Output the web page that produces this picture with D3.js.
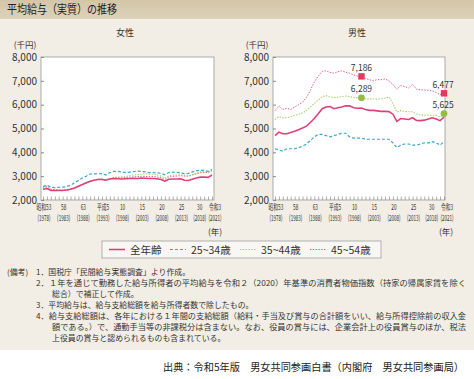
<!DOCTYPE html>
<html><head><meta charset="utf-8">
<script src="https://cdn.jsdelivr.net/npm/d3@7"></script>
<style>
body{margin:0;background:#fff}
svg{display:block}
text{font-family:"Noto Sans CJK JP","Noto Sans",sans-serif}
</style>
</head><body>
<svg id="c" width="474" height="379"></svg>
<script>
// ---------- data ----------
const years=[1978,1979,1980,1981,1982,1983,1984,1985,1986,1987,1988,1989,1990,1991,1992,1993,1994,1995,1996,1997,1998,1999,2000,2001,2002,2003,2004,2005,2006,2007,2008,2009,2010,2011,2012,2013,2014,2015,2016,2017,2018,2019,2020,2021];

const femaleAll=[2450,2480,2400,2400,2400,2400,2420,2450,2500,2580,2650,2720,2790,2830,2860,2860,2830,2880,2900,2890,2880,2890,2900,2910,2900,2920,2910,2900,2900,2890,2860,2790,2870,2880,2880,2890,2830,2820,2870,2920,2960,2960,2950,3050];
const female25=[2560,2620,2540,2520,2530,2540,2560,2620,2720,2820,2920,3000,3090,3100,3100,3110,3050,3150,3200,3200,3180,3150,3170,3190,3210,3200,3180,3150,3150,3140,3120,3060,3150,3170,3160,3150,3100,3120,3180,3230,3240,3240,3200,3280];
const female35=[2480,2520,2440,2420,2420,2410,2420,2440,2480,2560,2640,2710,2780,2830,2870,2880,2840,2900,2950,2960,2970,2980,3020,3050,3060,3080,3090,3080,3080,3060,3000,2920,3010,3040,3050,3060,3020,2990,3060,3130,3180,3180,3170,3240];
const female45=[2540,2580,2460,2430,2420,2420,2420,2450,2490,2570,2640,2710,2780,2830,2870,2880,2850,2890,2930,2940,2940,2940,2960,2970,2980,2990,2990,2980,2980,2970,2930,2860,2960,2990,3000,3020,3000,3010,3050,3100,3150,3160,3150,3230];

const maleAll=[4700,4850,4780,4780,4830,4880,4950,5020,5100,5250,5420,5620,5830,5900,5920,5830,5870,5900,5950,5950,5870,5850,5860,5800,5760,5760,5740,5720,5720,5710,5600,5300,5420,5400,5380,5450,5340,5330,5350,5400,5450,5400,5330,5480];
const male25=[4150,4100,4050,4150,4150,4150,4200,4250,4350,4500,4650,4750,4750,4700,4650,4700,4750,4800,4800,4650,4600,4600,4600,4550,4550,4550,4550,4550,4550,4550,4400,4200,4300,4350,4350,4300,4300,4350,4400,4400,4450,4400,4300,4450];
const male35=[5380,5500,5450,5450,5500,5550,5600,5650,5750,5900,6050,6200,6330,6380,6320,6300,6310,6340,6360,6340,6300,6290,6289,6250,6230,6240,6230,6250,6280,6320,6050,5700,5750,5720,5700,5700,5620,5560,5560,5550,5560,5550,5480,5625];
const male45=[5750,5950,5800,5850,5800,5900,6000,6100,6300,6600,6950,7200,7400,7420,7350,7320,7380,7420,7360,7320,7250,7200,7186,7100,7050,7000,7050,7050,7080,7000,6850,6650,6800,6760,6700,6850,6650,6620,6620,6600,6580,6520,6420,6477];

const seriesNames=["全年齢","25~34歳","35~44歳","45~54歳"];
const tickYears=[1978,1983,1988,1993,1998,2003,2008,2013,2018,2021];
const tickEra=["昭和53","58","63","平成5","10","15","20","25","30","令和3"];
const tickWestern=["(1978)","(1983)","(1988)","(1993)","(1998)","(2003)","(2008)","(2013)","(2018)","(2021)"];
const yTicks=[2000,3000,4000,5000,6000,7000,8000];

// highlighted points (male): [series index, year, label]
const maleMarks=[[3,2000,"7,186"],[2,2000,"6,289"],[3,2021,"6,477"],[2,2021,"5,625"]];

const titleText="平均給与（実質）の推移";
const panelTitles=["女性","男性"];
const notes=[
 ["(備考)",7,272,null],
 ["1．国税庁「民間給与実態調査」より作成。",36,272,null],
 ["2．１年を通じて勤務した給与所得者の平均給与を令和２（2020）年基準の消費者物価指数（持家の帰属家賃を除く",36,283,430],
 ["総合）で補正して作成。",52,294,null],
 ["3．平均給与は、給与支給総額を給与所得者数で除したもの。",36,305,null],
 ["4．給与支給総額は、各年における１年間の支給総額（給料・手当及び賞与の合計額をいい、給与所得控除前の収入金",36,316,430],
 ["額である。）で、通勤手当等の非課税分は含まない。なお、役員の賞与には、企業会計上の役員賞与のほか、税法",52,327,414],
 ["上役員の賞与と認められるものも含まれている。",52,338,null]
];
const sourceText="出典：令和5年版　男女共同参画白書（内閣府　男女共同参画局）";

// ---------- styles ----------
const styles=[
 {color:"#e0407a",width:1.6,dash:null},
 {color:"#3aa6c8",width:1.2,dash:"3,2"},
 {color:"#a9cc66",width:1.1,dash:"1.4,1.4"},
 {color:"#dc5c88",width:1.0,dash:"1.4,1.4"}
];

const svg=d3.select("#c");
svg.append("rect").attr("width",474).attr("height",379).attr("fill","#fff");
svg.append("rect").attr("width",474).attr("height",350).attr("fill","#f2eee5");
const grad=svg.append("defs").append("linearGradient").attr("id","tg").attr("x1",0).attr("y1",0).attr("x2",0).attr("y2",1);
grad.append("stop").attr("offset","0").attr("stop-color","#d3c6a8");
grad.append("stop").attr("offset","1").attr("stop-color","#ddd2ba");
svg.append("rect").attr("width",474).attr("height",19).attr("fill","url(#tg)");
svg.append("text").attr("x",7).attr("y",14).attr("font-size",12).attr("fill","#222")
  .attr("textLength",110).attr("lengthAdjust","spacingAndGlyphs").text(titleText);

const y=d3.scaleLinear().domain([2000,8000]).range([200,57]);

function panel(x0,x1,frameL,frameR,title,titleX,data,marks,yLabelRight){
  const x=d3.scaleLinear().domain([1978,2021]).range([x0,x1]);
  const g=svg.append("g");
  g.append("rect").attr("x",frameL).attr("y",y(8000)).attr("width",frameR-frameL).attr("height",y(2000)-y(8000))
    .attr("fill","#fff").attr("stroke","#9a9a9a").attr("stroke-width",0.8);
  g.append("text").attr("x",titleX).attr("y",36).attr("text-anchor","middle").attr("font-size",9).attr("fill","#333").text(title);
  g.append("text").attr("x",yLabelRight-12).attr("y",48).attr("text-anchor","middle").attr("font-size",8.5).attr("fill","#333").text("(千円)");
  // y axis
  const ya=g.append("g").attr("transform",`translate(${frameL},0)`)
    .call(d3.axisLeft(y).tickValues(yTicks).tickFormat(d3.format(",")).tickSizeInner(-3).tickSizeOuter(0).tickPadding(frameL-yLabelRight));
  ya.select(".domain").remove();
  ya.selectAll("line").attr("stroke","#888");
  ya.selectAll("text").attr("font-size",10).attr("fill","#333").attr("font-family","'Noto Sans',sans-serif");
  // x axis minor ticks
  const xa=g.append("g").attr("transform",`translate(0,${y(2000)})`)
    .call(d3.axisBottom(x).tickValues(years).tickSizeInner(-3.5).tickSizeOuter(0).tickFormat(""));
  xa.select(".domain").remove();
  xa.selectAll("line").attr("stroke","#888").attr("stroke-width",0.7);
  // x labels
  tickYears.forEach((yr,i)=>{
    const off = yr===2021 ? 3 : (yr===2018 ? -0.5 : 1);
    g.append("text").attr("transform",`translate(${x(yr)+off},210) scale(0.58,1)`).attr("text-anchor","middle")
      .attr("font-size",8.2).attr("fill","#333").text(tickEra[i]);
    g.append("text").attr("transform",`translate(${x(yr)+off},221) scale(0.55,1)`).attr("text-anchor","middle")
      .attr("font-size",8.2).attr("fill","#333").text(tickWestern[i]);
  });
  g.append("text").attr("x",frameR+1).attr("y",235).attr("text-anchor","middle").attr("font-size",8.5).attr("fill","#333").text("(年)");
  // lines
  const line=d3.line().x((d,i)=>x(years[i])).y(d=>y(d));
  [3,2,1,0].forEach(k=>{
    g.append("path").datum(data[k]).attr("d",line).attr("fill","none")
      .attr("stroke",styles[k].color).attr("stroke-width",styles[k].width)
      .attr("stroke-dasharray",styles[k].dash);
  });
  // markers
  marks.forEach(([k,yr,lab])=>{
    const v=data[k][years.indexOf(yr)];
    const cx=x(yr), cy=y(v);
    if(k===3){
      g.append("rect").attr("x",cx-3.2).attr("y",cy-3.2).attr("width",6.4).attr("height",6.4).attr("fill","#e03a5e");
    } else {
      g.append("circle").attr("cx",cx).attr("cy",cy).attr("r",3.4).attr("fill","#93bb46");
    }
    g.append("text").attr("x",yr===2021?cx-1:cx).attr("y",cy-5.5).attr("text-anchor","middle")
      .attr("font-size",8.5).attr("fill","#333").attr("font-family","'Noto Sans',sans-serif").text(lab);
  });
}

panel(43,212,41,214,panelTitles[0],125,[femaleAll,female25,female35,female45],[],37);
panel(275,444,273,445,panelTitles[1],357,[maleAll,male25,male35,male45],maleMarks,269);

// legend
const lg=svg.append("g");
lg.append("rect").attr("x",102).attr("y",241).attr("width",279).attr("height",17)
  .attr("fill","#f9f7f3").attr("stroke","#a0a0a0").attr("stroke-width",0.8);
const legX=[[109,125,130],[170,186,191],[240,256,261],[310,326,331]];
seriesNames.forEach((n,k)=>{
  const [a,b,t]=legX[k];
  lg.append("line").attr("x1",a).attr("x2",b).attr("y1",249.5).attr("y2",249.5)
    .attr("stroke",styles[k].color).attr("stroke-width",styles[k].width).attr("stroke-dasharray",styles[k].dash);
  lg.append("text").attr("x",t).attr("y",253.5).attr("font-size",10.5).attr("fill","#333").text(n);
});

// notes
notes.forEach(([t,xx,yy,w])=>{
  const tx=svg.append("text").attr("x",xx).attr("y",yy+3).attr("font-size",7.9).attr("fill","#333").text(t);
  if(w) tx.attr("textLength",w).attr("lengthAdjust","spacingAndGlyphs");
});

svg.append("text").attr("x",464).attr("y",371).attr("text-anchor","end").attr("font-size",10.5).attr("fill","#222")
  .attr("textLength",301).attr("lengthAdjust","spacingAndGlyphs").text(sourceText);
</script>
</body></html>
